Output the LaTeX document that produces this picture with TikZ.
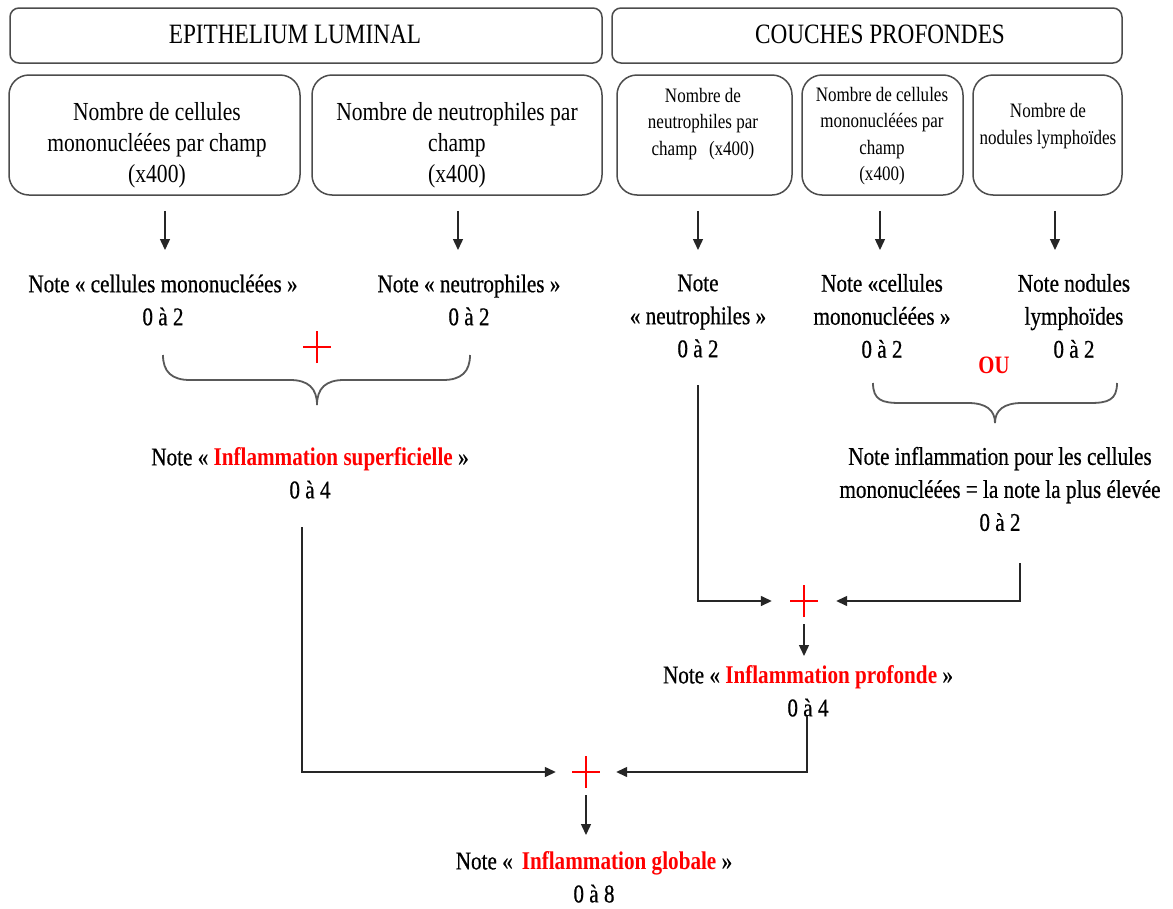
\documentclass[tikz,border=0pt]{standalone}
\usepackage{fontspec}
\setmainfont[FakeStretch=0.83]{Liberation Serif}
\newfontfamily\notefont[FakeStretch=0.83,FakeBold=0.6]{Liberation Serif}
\usetikzlibrary{arrows.meta}
\tikzset{
  hdr/.style={draw=black!70, line width=1.5pt, rounded corners=9pt, inner sep=0pt, minimum height=55pt},
  bx/.style={draw=black!70, line width=1.5pt, rounded corners=20pt, inner sep=0pt, minimum height=120pt},
  ttl/.style={font=\fontsize{28}{33}\selectfont, inner sep=0pt},
  btxt/.style={font=\fontsize{26}{31}\selectfont, align=center, inner sep=0pt},
  stxt/.style={font=\fontsize{20.5}{26.5}\selectfont, align=center, inner sep=0pt},
  note/.style={font=\notefont\fontsize{25.5}{33}\selectfont, align=center, inner sep=0pt},
  arr/.style={draw=black!85, line width=1.4pt, -{Triangle[length=11pt,width=10pt]}},
  brace/.style={draw=black!65, line width=1.8pt},
  plus/.style={minimum width=#1, minimum height=46pt, inner sep=0pt,
    path picture={\draw[red, line width=2.4pt]
      ([xshift=-14pt]path picture bounding box.center) -- ([xshift=14pt]path picture bounding box.center)
      ([yshift=-16pt]path picture bounding box.center) -- ([yshift=16pt]path picture bounding box.center);}},
  ou/.style={font=\fontsize{25}{30}\selectfont\bfseries, text=red, inner sep=0pt},
}
\newcommand{\rb}[1]{\textcolor{red}{\normalfont\fontsize{25.5}{33}\selectfont\bfseries #1}}
\begin{document}
\begin{tikzpicture}[x=1pt,y=-1pt]
\useasboundingbox[fill=white] (0,0) rectangle (1173,908);

% headers
\node[hdr, minimum width=592pt] (h1) at (306,35.5) {};
\node[ttl] (th1) at (295,34) {EPITHELIUM LUMINAL};
\node[hdr, minimum width=510pt] (h2) at (867,35.5) {};
\node[ttl] (th2) at (880,34) {COUCHES PROFONDES};

% boxes
\node[bx, minimum width=291pt] (b1) at (154.5,135) {};
\node[btxt] (tb1) at (157,145) {Nombre de cellules\\mononucléées par champ\\(x400)};
\node[bx, minimum width=290pt] (b2) at (457,135) {};
\node[btxt] (tb2) at (457,145) {Nombre de neutrophiles par\\champ\\(x400)};
\node[bx, minimum width=175pt] (b3) at (704.5,135) {};
\node[stxt] (tb3) at (703,124) {Nombre de\\neutrophiles par\\champ\hspace{12pt}(x400)};
\node[bx, minimum width=161pt] (b4) at (882.5,135) {};
\node[stxt] (tb4) at (882,136) {Nombre de cellules\\mononucléées par\\champ\\(x400)};
\node[bx, minimum width=149pt] (b5) at (1047.5,135) {};
\node[stxt] (tb5) at (1048,126) {Nombre de\\nodules lymphoïdes};

% notes
\node[note] (n1) at (163,300) {Note « cellules mononucléées »\\0 à 2};
\node[note] (n2) at (469,300) {Note « neutrophiles »\\0 à 2};
\node[note] (n3) at (698,316) {Note\\« neutrophiles »\\0 à 2};
\node[note] (n4) at (882,316) {Note «cellules\\mononucléées »\\0 à 2};
\node[note] (n5) at (1074,316) {Note nodules\\lymphoïdes\\0 à 2};

% top arrows
\coordinate (a1) at (165,250);
\coordinate (a2) at (458,250);
\coordinate (a3) at (698,250);
\coordinate (a4) at (880,250);
\coordinate (a5) at (1055,250);
\draw[arr, shorten <=15pt] (b1.south -| a1) -- (a1);
\draw[arr, shorten <=15pt] (b2.south -| a2) -- (a2);
\draw[arr, shorten <=15pt] (b3.south -| a3) -- (a3);
\draw[arr, shorten <=15pt] (b4.south -| a4) -- (a4);
\draw[arr, shorten <=15pt] (b5.south -| a5) -- (a5);

% plus and braces (left)
\node[plus=30pt] (p1) at (317,347) {};
\draw[brace] (163,355) .. controls (163,372) and (172,380) .. (190,380) -- (290,380)
  .. controls (308,380) and (317,388) .. (317,405);
\draw[brace] (470,355) .. controls (470,372) and (461,380) .. (443,380) -- (344,380)
  .. controls (326,380) and (317,388) .. (317,405);

% OU and brace (right)
\node[ou] (ou) at (994,365) {OU};
\draw[brace] (873,383) .. controls (873,400) and (882,403) .. (900,403) -- (968,403)
  .. controls (986,403) and (995,410) .. (995,423);
\draw[brace] (1117,383) .. controls (1117,400) and (1108,403) .. (1090,403) -- (1022,403)
  .. controls (1004,403) and (995,410) .. (995,423);

% result notes
\node[note] (sup) at (310,473) {Note « \rb{Inflammation superficielle} »\\0 à 4};
\node[note] (mono) at (1000,489) {Note inflammation pour les cellules\\mononucléées = la note la plus élevée\\0 à 2};

% deep sum
\node[plus=64pt] (p2) at (804,601) {};
\coordinate (c3) at (698,385);
\coordinate (c4) at (1020,563);
\draw[arr] (c3) |- (p2.west);
\draw[arr] (c4) |- (p2.east);
\node[note] (prof) at (808,691) {Note « \rb{Inflammation profonde} »\\0 à 4};
\coordinate (c6) at (804,656);
\draw[arr] (p2.south) -- (c6);

% global sum
\node[plus=60pt] (p3) at (586,772) {};
\coordinate (c1) at (302,527);
\coordinate (c5) at (807,716);
\draw[arr] (c1) |- (p3.west);
\draw[arr] (c5) |- (p3.east);
\coordinate (c7) at (586,835);
\draw[arr] (p3.south) -- (c7);
\node[note] (glob) at (594,877) {Note «\hspace{9pt}\rb{Inflammation globale} »\\0 à 8};
\end{tikzpicture}
\end{document}
